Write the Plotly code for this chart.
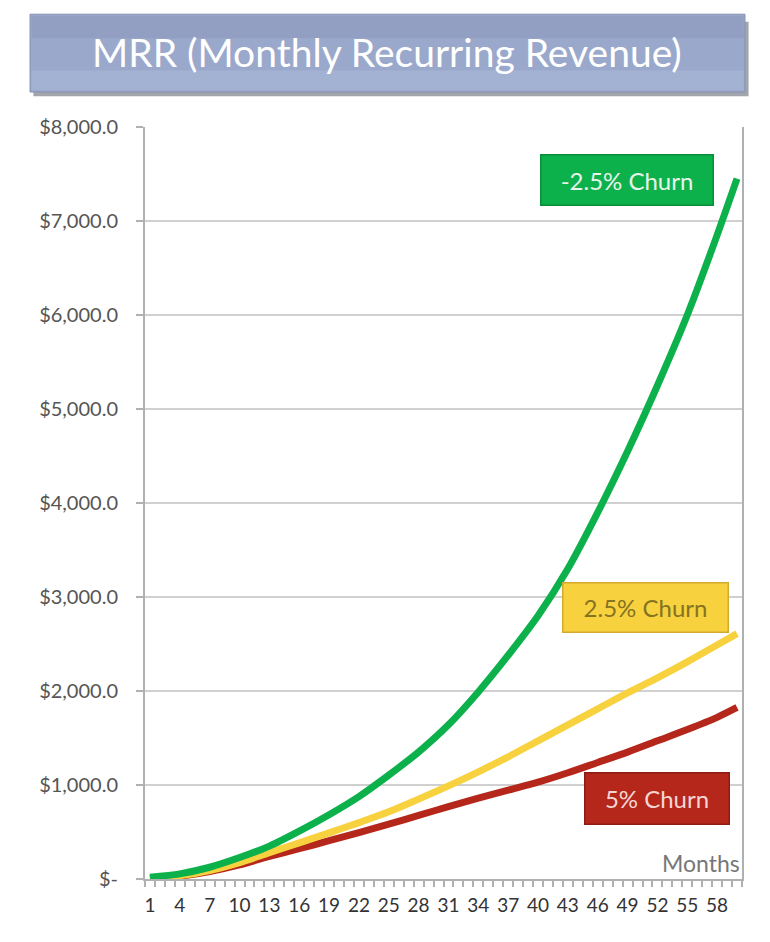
import plotly.graph_objects as go

# values, every third month plus the last one
months = [1, 4, 7, 10, 13, 16, 19, 22, 25, 28, 31, 34, 37, 40, 43, 46, 49, 52, 55, 58, 60]
mrr_neg_churn = [20, 55, 125, 228, 350, 509, 684, 877, 1105, 1351, 1640, 1990, 2380,
                 2800, 3300, 3900, 4550, 5250, 6000, 6850, 7450]
mrr_churn_25 = [5, 35, 90, 175, 280, 385, 490, 600, 715, 850, 990, 1140, 1300,
                1470, 1640, 1810, 1980, 2140, 2310, 2490, 2610]
mrr_churn_5 = [5, 30, 80, 150, 240, 322, 407, 494, 584, 676, 771, 860, 945,
               1030, 1130, 1240, 1350, 1470, 1590, 1720, 1825]

x_ticks = list(range(1, 59, 3))
y_ticks = [0, 1000, 2000, 3000, 4000, 5000, 6000, 7000, 8000]
y_labels = ['$-', '$1,000.0', '$2,000.0', '$3,000.0', '$4,000.0',
            '$5,000.0', '$6,000.0', '$7,000.0', '$8,000.0']

GREEN = '#0db14b'
YELLOW = '#f7d23e'
RED = '#b5271b'
FONT = 'Lato'

fig = go.Figure()
for vals, col in [(mrr_churn_5, RED), (mrr_churn_25, YELLOW), (mrr_neg_churn, GREEN)]:
    fig.add_trace(go.Scatter(x=months, y=vals, mode='lines',
                             line=dict(color=col, width=7, shape='spline', smoothing=0.8),
                             showlegend=False))

fig.update_xaxes(range=[0.5, 60.5], tickvals=x_ticks, ticks='', showgrid=False,
                 showline=True, linecolor='#b0b0b0', linewidth=2,
                 tickfont=dict(family=FONT, size=19, color='#333333'),
                 ticklabelstandoff=8,
                 minor=dict(tick0=0.5, dtick=1, ticks='outside', ticklen=6,
                            tickcolor='#b0b0b0', tickwidth=1.5, showgrid=False),
                 zeroline=False)
fig.update_yaxes(range=[0, 8000], tickvals=y_ticks, ticktext=y_labels,
                 ticks='outside', ticklen=7, tickcolor='#b0b0b0', tickwidth=1.5,
                 showline=True, mirror=True, linecolor='#b0b0b0', linewidth=2,
                 showgrid=True, gridcolor='#d0d0d0', gridwidth=2,
                 tickfont=dict(family=FONT, size=20, color='#555555'),
                 ticklabelstandoff=14, zeroline=False)

# title banner: shadow, body, darker top band, lighter bottom band
banner = dict(type='rect', xref='paper', yref='paper', layer='below')
fig.add_shape(**banner, x0=-0.187, x1=1.011, y0=1.041, y1=1.140,
              fillcolor='rgba(50,55,70,0.45)', line_width=0)
fig.add_shape(**banner, x0=-0.1926, x1=1.005, y0=1.0465, y1=1.150,
              fillcolor='#9aa9cb', line=dict(color='#8592b0', width=1))
fig.add_shape(**banner, x0=-0.190, x1=1.003, y0=1.118, y1=1.148,
              fillcolor='#939fc2', line_width=0)
fig.add_shape(**banner, x0=-0.190, x1=1.003, y0=1.049, y1=1.075,
              fillcolor='#a3b1d2', line_width=0)
fig.add_annotation(text='MRR (Monthly Recurring Revenue)', xref='paper', yref='paper',
                   x=0.405, y=1.1, xanchor='center', yanchor='middle', showarrow=False,
                   font=dict(family=FONT, size=39, color='white'))

# series labels
labels = [('-2.5% Churn', 0.8082, 0.9295, 169, 47, GREEN, '#0a8c3b', '#e6f4ea'),
          ('2.5% Churn', 0.839, 0.3604, 162, 46, YELLOW, '#d2ab2c', '#857322'),
          ('5% Churn', 0.8568, 0.1064, 141, 48, RED, '#8c1d14', '#f3d6d3')]
for txt, lx, ly, w, h, bg, bd, fc in labels:
    fig.add_annotation(text=txt, xref='paper', yref='paper', x=lx, y=ly,
                       xanchor='center', yanchor='middle',
                       showarrow=False, width=w, height=h, bgcolor=bg,
                       bordercolor=bd, borderwidth=1.5, borderpad=1,
                       font=dict(family=FONT, size=24, color=fc))

fig.add_annotation(text='Months', xref='paper', yref='paper', x=1.0, y=0.0,
                   xanchor='right', yanchor='bottom', showarrow=False,
                   font=dict(family=FONT, size=23, color='#777777'))

# page body has an 8px margin, so the figure is drawn 8px smaller
fig.update_layout(width=762, height=934, margin=dict(l=137, r=28, t=119, b=63),
                  plot_bgcolor='white', paper_bgcolor='white')

fig.write_html('out.html')
